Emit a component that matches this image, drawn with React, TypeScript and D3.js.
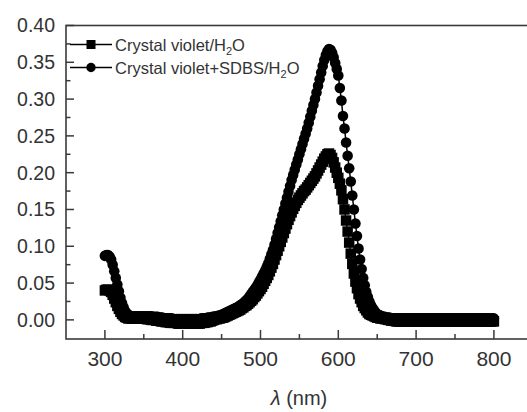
import React from "react";
import * as d3 from "d3";

// wavelength grid of the spectrometer (nm)
const wavelengths = d3.range(300, 801, 2);

// Crystal violet/H2O (squares), one value every 2 nm from 300 to 800
const cvWater = [
  0.040, 0.041, 0.041, 0.040, 0.038, 0.034, 0.029, 0.024, 0.019, 0.015,
  0.011, 0.008, 0.006, 0.004, 0.003, 0.002, 0.002, 0.002, 0.002, 0.002,
  0.002, 0.002, 0.002, 0.002, 0.002, 0.002, 0.002, 0.001, 0.001, 0.001,
  0.000, 0.000, 0.000, -0.001, -0.001, -0.001, -0.002, -0.002, -0.002, -0.003,
  -0.003, -0.003, -0.004, -0.004, -0.004, -0.004, -0.004, -0.005, -0.005, -0.005,
  -0.005, -0.005, -0.005, -0.005, -0.005, -0.005, -0.005, -0.005, -0.005, -0.005,
  -0.005, -0.005, -0.004, -0.004, -0.004, -0.003, -0.003, -0.002, -0.002, -0.001,
  0.000, 0.001, 0.001, 0.002, 0.002, 0.003, 0.003, 0.004, 0.005, 0.006,
  0.007, 0.008, 0.009, 0.010, 0.011, 0.012, 0.013, 0.014, 0.016, 0.017,
  0.019, 0.020, 0.022, 0.024, 0.026, 0.028, 0.031, 0.033, 0.036, 0.039,
  0.042, 0.045, 0.049, 0.053, 0.057, 0.061, 0.066, 0.071, 0.076, 0.082,
  0.088, 0.094, 0.100, 0.106, 0.112, 0.118, 0.124, 0.130, 0.136, 0.141,
  0.146, 0.151, 0.155, 0.159, 0.163, 0.166, 0.169, 0.172, 0.175, 0.177,
  0.180, 0.183, 0.186, 0.189, 0.192, 0.195, 0.199, 0.203, 0.207, 0.211,
  0.215, 0.219, 0.222, 0.225, 0.226, 0.224, 0.220, 0.214, 0.207, 0.200,
  0.193, 0.185, 0.176, 0.164, 0.150, 0.135, 0.120, 0.105, 0.090, 0.076,
  0.063, 0.052, 0.043, 0.035, 0.029, 0.024, 0.019, 0.016, 0.013, 0.010,
  0.008, 0.007, 0.006, 0.005, 0.004, 0.003, 0.003, 0.002, 0.002, 0.002,
  0.001, 0.001, 0.000, 0.000, -0.001, -0.001, -0.001, -0.002, -0.002, -0.002,
  -0.002, -0.002, -0.002, -0.002, -0.002, -0.002, -0.002, -0.002, -0.002, -0.002,
  -0.002, -0.002, -0.002, -0.002, -0.002, -0.002, -0.002, -0.002, -0.002, -0.002,
  -0.002, -0.002, -0.002, -0.002, -0.002, -0.002, -0.002, -0.002, -0.002, -0.002,
  -0.002, -0.002, -0.002, -0.002, -0.002, -0.002, -0.002, -0.002, -0.002, -0.002,
  -0.002, -0.002, -0.002, -0.002, -0.002, -0.002, -0.002, -0.002, -0.002, -0.002,
  -0.002, -0.002, -0.002, -0.002, -0.002, -0.002, -0.002, -0.002, -0.002, -0.002,
  -0.002,
];

// Crystal violet+SDBS/H2O (circles), same grid
const cvSdbs = [
  0.087, 0.088, 0.088, 0.086, 0.082, 0.075, 0.066, 0.057, 0.048, 0.039,
  0.030, 0.023, 0.017, 0.012, 0.009, 0.007, 0.006, 0.005, 0.005, 0.005,
  0.005, 0.005, 0.005, 0.005, 0.005, 0.005, 0.005, 0.005, 0.005, 0.005,
  0.005, 0.004, 0.004, 0.004, 0.004, 0.003, 0.003, 0.003, 0.002, 0.002,
  0.002, 0.002, 0.002, 0.002, 0.001, 0.001, 0.001, 0.001, 0.001, 0.001,
  0.001, 0.001, 0.001, 0.001, 0.001, 0.001, 0.001, 0.001, 0.001, 0.001,
  0.001, 0.001, 0.002, 0.002, 0.002, 0.002, 0.003, 0.003, 0.003, 0.004,
  0.004, 0.005, 0.005, 0.006, 0.006, 0.007, 0.008, 0.009, 0.010, 0.011,
  0.012, 0.013, 0.014, 0.015, 0.016, 0.017, 0.018, 0.020, 0.021, 0.023,
  0.025, 0.027, 0.029, 0.032, 0.035, 0.038, 0.041, 0.044, 0.047, 0.051,
  0.055, 0.059, 0.063, 0.067, 0.072, 0.077, 0.083, 0.089, 0.095, 0.102,
  0.110, 0.118, 0.126, 0.134, 0.142, 0.150, 0.158, 0.166, 0.174, 0.182,
  0.190, 0.197, 0.204, 0.211, 0.218, 0.225, 0.232, 0.239, 0.246, 0.253,
  0.260, 0.268, 0.276, 0.284, 0.292, 0.300, 0.309, 0.318, 0.327, 0.336,
  0.345, 0.353, 0.360, 0.365, 0.368, 0.367, 0.363, 0.357, 0.349, 0.341,
  0.332, 0.315, 0.298, 0.277, 0.260, 0.241, 0.223, 0.206, 0.188, 0.169,
  0.150, 0.131, 0.114, 0.097, 0.082, 0.069, 0.057, 0.047, 0.038, 0.031,
  0.025, 0.020, 0.016, 0.013, 0.010, 0.008, 0.007, 0.006, 0.005, 0.004,
  0.004, 0.003, 0.003, 0.003, 0.002, 0.002, 0.002, 0.002, 0.002, 0.002,
  0.002, 0.002, 0.002, 0.002, 0.002, 0.002, 0.002, 0.002, 0.002, 0.002,
  0.002, 0.002, 0.002, 0.002, 0.002, 0.002, 0.002, 0.002, 0.002, 0.002,
  0.002, 0.002, 0.002, 0.002, 0.002, 0.002, 0.002, 0.002, 0.002, 0.002,
  0.002, 0.002, 0.002, 0.002, 0.002, 0.002, 0.002, 0.002, 0.002, 0.002,
  0.002, 0.002, 0.002, 0.002, 0.002, 0.002, 0.002, 0.002, 0.002, 0.002,
  0.002, 0.002, 0.002, 0.002, 0.002, 0.002, 0.002, 0.002, 0.002, 0.002,
  0.002,
];

const xMajor = [300, 400, 500, 600, 700, 800];
const xMinor = [350, 450, 550, 650, 750];
const yMajor = [0, 0.05, 0.1, 0.15, 0.2, 0.25, 0.3, 0.35, 0.4];
const yMinor = [0.025, 0.075, 0.125, 0.175, 0.225, 0.275, 0.325, 0.375];

const W = 527;
const H = 412;
const FONT = "'Liberation Sans', Arial, sans-serif";
const AXIS = "#3a3a3a";
const TEXT = "#333";

const App = () => {
  const x = d3.scaleLinear().domain([250, 850]).range([66, 532.8]);
  const y = d3.scaleLinear().domain([-0.026, 0.4]).range([339, 25.5]);

  const left = x.range()[0];
  const right = x.range()[1];
  const top = y.range()[1];
  const bottom = y.range()[0];

  // symbol sizes
  const sq = 10.5;
  const r = 5.3;

  const line = d3
    .line<number>()
    .x((_, i) => x(wavelengths[i]))
    .y((d) => y(d));

  return (
    <svg
      width={W}
      height={H}
      style={{ position: "absolute", left: 0, top: 0, background: "#fff" }}
      fontFamily={FONT}
    >
      <rect width={W} height={H} fill="#fff" />

      {/* series 1: squares */}
      <path d={line(cvWater) || ""} fill="none" stroke="#000" strokeWidth={1.5} />
      {cvWater.map((v, i) => (
        <rect
          key={"s" + i}
          x={x(wavelengths[i]) - sq / 2}
          y={y(v) - sq / 2}
          width={sq}
          height={sq}
          fill="#000"
        />
      ))}

      {/* series 2: circles */}
      <path d={line(cvSdbs) || ""} fill="none" stroke="#000" strokeWidth={1.5} />
      {cvSdbs.map((v, i) => (
        <circle key={"c" + i} cx={x(wavelengths[i])} cy={y(v)} r={r} fill="#000" />
      ))}

      {/* frame */}
      <rect
        x={left}
        y={top}
        width={right - left}
        height={bottom - top}
        fill="none"
        stroke={AXIS}
        strokeWidth={1.6}
      />

      {/* x ticks */}
      {xMajor.map((t) => (
        <g key={"xm" + t}>
          <line x1={x(t)} x2={x(t)} y1={bottom} y2={bottom - 9} stroke={AXIS} strokeWidth={1.5} />
          <text x={x(t)} y={bottom + 27} textAnchor="middle" fontSize={21} fill={TEXT}>
            {t}
          </text>
        </g>
      ))}
      {xMinor.map((t) => (
        <line key={"xn" + t} x1={x(t)} x2={x(t)} y1={bottom} y2={bottom - 5} stroke={AXIS} strokeWidth={1.5} />
      ))}

      {/* y ticks */}
      {yMajor.map((t) => (
        <g key={"ym" + t}>
          <line x1={left} x2={left + 8} y1={y(t)} y2={y(t)} stroke={AXIS} strokeWidth={1.5} />
          <text x={55} y={y(t)} dy="0.35em" textAnchor="end" fontSize={19.5} fill={TEXT}>
            {t.toFixed(2)}
          </text>
        </g>
      ))}
      {yMinor.map((t) => (
        <line key={"yn" + t} x1={left} x2={left + 4.5} y1={y(t)} y2={y(t)} stroke={AXIS} strokeWidth={1.5} />
      ))}

      {/* axis title */}
      <text x={299} y={405} textAnchor="middle" fontSize={20} fill={TEXT}>
        <tspan fontStyle="italic">λ</tspan> (nm)
      </text>

      {/* legend */}
      <g fontSize={16.5} fill={TEXT}>
        <line x1={70} x2={112} y1={44.5} y2={44.5} stroke="#000" strokeWidth={1.5} />
        <rect x={91 - 4.5} y={44.5 - 4.5} width={9} height={9} fill="#000" />
        <text x={115} y={50.5}>
          Crystal violet/H<tspan fontSize={11} dy={4}>2</tspan>
          <tspan dy={-4}>O</tspan>
        </text>
        <line x1={70} x2={112} y1={67.5} y2={67.5} stroke="#000" strokeWidth={1.5} />
        <circle cx={91} cy={67.5} r={4.7} fill="#000" />
        <text x={115} y={73.5}>
          Crystal violet+SDBS/H<tspan fontSize={11} dy={4}>2</tspan>
          <tspan dy={-4}>O</tspan>
        </text>
      </g>
    </svg>
  );
};

export default App;
